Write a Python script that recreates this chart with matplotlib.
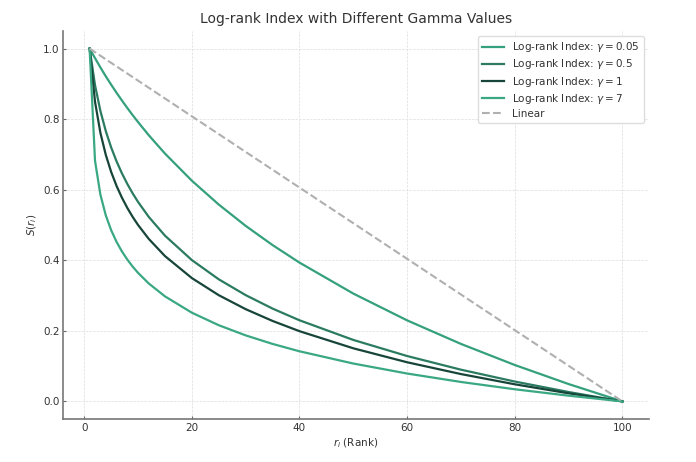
import matplotlib.pyplot as plt

ranks = [1, 2, 3, 4, 5, 6, 7, 8, 9, 10, 12, 15, 20, 25, 30, 35, 40, 50, 60, 70, 80, 90, 100]
s_g005 = [1.0, 0.973, 0.9466, 0.9216, 0.8978, 0.8749, 0.8529, 0.8317, 0.8113, 0.7917,
          0.7543, 0.7025, 0.6255, 0.5579, 0.4975, 0.4430, 0.3934, 0.3056, 0.2297,
          0.1629, 0.1032, 0.0492, 0.0]
s_g05 = [1.0, 0.8966, 0.8233, 0.7664, 0.7199, 0.6806, 0.6465, 0.6165, 0.5896, 0.5653,
         0.5227, 0.4698, 0.4005, 0.3460, 0.3012, 0.2630, 0.2299, 0.1742, 0.1286,
         0.0899, 0.0563, 0.0266, 0.0]
s_g1 = [1.0, 0.8495, 0.7614, 0.6990, 0.6505, 0.6109, 0.5775, 0.5485, 0.5229, 0.5,
        0.4604, 0.4119, 0.3495, 0.3010, 0.2614, 0.2280, 0.1990, 0.1505, 0.1109,
        0.0775, 0.0485, 0.0229, 0.0]
s_g7 = [1.0, 0.6822, 0.5861, 0.5275, 0.4853, 0.4523, 0.4251, 0.4021, 0.3820, 0.3643,
        0.3341, 0.2977, 0.2514, 0.2159, 0.1871, 0.1629, 0.1420, 0.1073, 0.0790,
        0.0551, 0.0344, 0.0162, 0.0]
linear_r = [1, 100]
linear_s = [1.0, 0.0]

series = [
    (s_g005, r'Log-rank Index: $\gamma = 0.05$', '#34a07d'),
    (s_g05, r'Log-rank Index: $\gamma = 0.5$', '#2a7b61'),
    (s_g1, r'Log-rank Index: $\gamma = 1$', '#17453a'),
    (s_g7, r'Log-rank Index: $\gamma = 7$', '#3aa883'),
]

text_col = '#333333'
fig = plt.figure(figsize=(6.96, 4.62), dpi=100)
ax = fig.add_axes([0.0905, 0.093, 0.842, 0.840])

for vals, label, col in series:
    ax.plot(ranks, vals, label=label, color=col, lw=1.6)
ax.plot(linear_r, linear_s, '--', color='#b0b0b0', lw=1.5, label='Linear')

ax.set_title('Log-rank Index with Different Gamma Values', fontsize=10, color=text_col, pad=6)
ax.set_xlabel(r'$r_i$ (Rank)', color=text_col, fontsize=7.5, labelpad=3)
ax.set_ylabel(r'$S(r_i)$', color=text_col, fontsize=7.5, labelpad=3)
ax.grid(True, ls='--', lw=0.5, color='#dddddd')
ax.tick_params(direction='in', length=2.2, width=0.8, color='#666666',
               labelcolor=text_col, labelsize=7.5, pad=2.5)
for side in ['top', 'right']:
    ax.spines[side].set_visible(False)
for side in ['left', 'bottom']:
    ax.spines[side].set_color('#777777')
    ax.spines[side].set_linewidth(1.2)

leg = ax.legend(loc='upper right', fontsize=7.5, framealpha=1, edgecolor='#dddddd',
                handlelength=2.1, labelspacing=0.3)
for t in leg.get_texts():
    t.set_color(text_col)

fig.savefig('out.png', dpi=100)
